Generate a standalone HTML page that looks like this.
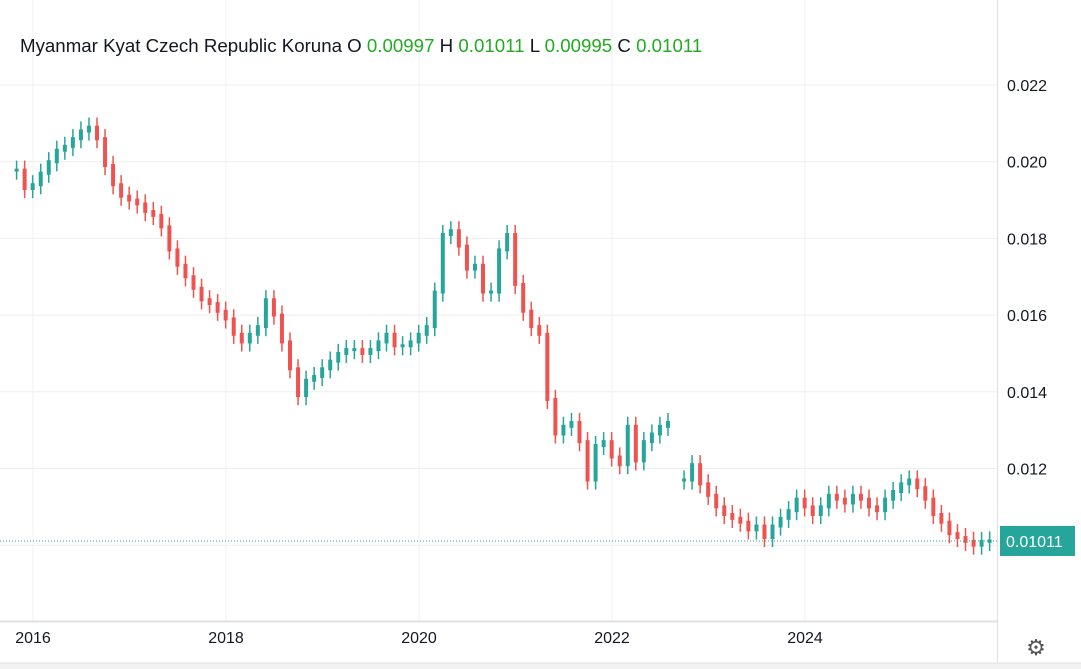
<!DOCTYPE html>
<html><head><meta charset="utf-8"><style>
body{margin:0;background:#fff;font-family:"Liberation Sans",sans-serif;}
#wrap{position:relative;width:1081px;height:669px;overflow:hidden;background:#fff}
</style></head><body>
<div id="wrap">
<svg id="svg" width="1081" height="669"></svg>
</div>
<script>
const startYear = 2015.83;
const closes = [0.01978,0.0193,0.0194,0.0197,0.0200,0.0203,0.0204,0.0206,0.0208,0.0209,0.0206,0.0199,0.0194,0.0191,
0.0190,0.0189,0.0187,0.0186,0.0183,0.0177,0.0173,0.0170,0.0167,0.0164,0.0163,0.0161,
0.0159,0.0155,0.0153,0.0155,0.0157,0.0164,0.0160,0.0153,0.0146,0.0139,0.0143,0.0144,
0.0146,0.0148,0.0150,0.0151,0.0151,0.0150,0.0151,0.0153,0.0155,0.0152,0.0152,0.0153,
0.0155,0.0157,0.0166,0.0181,0.0182,0.0178,0.0172,0.0173,0.0166,0.0166,0.0177,0.0181,
0.0168,0.0161,0.0157,0.0155,0.0138,0.0129,0.0131,0.0132,0.0127,0.0117,0.0126,0.0127,
0.0123,0.0121,0.0131,0.0122,0.0127,0.0129,0.0131,0.0132,null,
0.0117,0.0121,0.0116,0.0113,0.0110,0.0108,0.0107,0.0106,0.0104,0.0105,0.0102,0.0105,
0.0107,0.0109,0.0112,0.0110,0.0108,0.0110,0.0113,0.0112,0.0111,0.0113,0.0112,0.0110,
0.0109,0.0112,0.0114,0.0116,0.0117,0.0115,0.0112,0.0108,0.0106,0.0103,0.0102,0.0101,
0.0100,0.0101,0.01011];
const yTicks = [0.012,0.014,0.016,0.018,0.020,0.022];
const xTicks = [2016,2018,2020,2022,2024];
const lastPrice = 0.01011;

const svg = document.getElementById('svg');
const NS = 'http://www.w3.org/2000/svg';
function yS(v){return 85 + (0.022 - v)/0.002*76.7;}
function xS(t){return 33 + (t-2016)*96.5;}
function mk(tag, attrs, parent){const e=document.createElementNS(NS,tag);for(const k in attrs)e.setAttribute(k,attrs[k]);(parent||svg).appendChild(e);return e;}

yTicks.concat([0.010]).forEach(v=>{
  const g=mk('line',{x1:0,x2:997,y1:yS(v),y2:yS(v),stroke:'#eeeeee','stroke-width':1});
  
  
});
xTicks.forEach(t=>{
  const g=mk('line',{x1:xS(t),x2:xS(t),y1:0,y2:621,stroke:'#f0f0f0','stroke-width':1});
  
  
});
mk('line',{x1:997.5,x2:997.5,y1:0,y2:669,stroke:'#e0e0e0'});
mk('line',{x1:0,x2:997,y1:621.5,y2:621.5,stroke:'#e0e0e0','stroke-width':2});
mk('rect',{x:0,y:663,width:1081,height:6,fill:'#f2f2f2'});
mk('line',{x1:0,x2:1081,y1:663,y2:663,stroke:'#e0e0e0'});

yTicks.forEach(v=>{
  const t=mk('text',{x:1007,y:yS(v)+6,'font-size':16,fill:'#131722'});
  t.textContent=v.toFixed(3);
  
  
});
xTicks.forEach(y=>{
  const t=mk('text',{x:xS(y),y:643,'font-size':16,fill:'#131722','text-anchor':'middle'});
  t.textContent=String(y);
  
  
});

const step=1/12;
for(let i=0;i<closes.length;i++){
  const c=closes[i]; if(c===null) continue;
  const prev = (i>0 && closes[i-1]!==null)? closes[i-1] : c;
  const o=prev;
  const up=c>=o;
  const col=up?'#26a69a':'#ef5350';
  const x=xS(startYear+i*step);
  const hi=Math.max(o,c)+0.00025, lo=Math.min(o,c)-0.00025;
  const w=mk('line',{x1:x,x2:x,y1:yS(hi),y2:yS(lo),stroke:col,'stroke-width':1.5});
  
  
  const top=yS(Math.max(o,c)), bot=yS(Math.min(o,c));
  const b=mk('rect',{x:x-2,y:top-1.5,width:4,height:Math.max(3,bot-top+3),fill:col});
  
  
}

const ly=yS(lastPrice);
const pl=mk('line',{x1:0,x2:997,y1:ly,y2:ly,stroke:'#26a69a','stroke-dasharray':'1,2','stroke-width':1});


const pr=mk('rect',{x:1000,y:ly-15,width:75,height:30,fill:'#26a69a'});


const pt=mk('text',{x:1006,y:ly+6,'font-size':16,fill:'#fff'});
pt.textContent=lastPrice.toFixed(5);



const gear=mk('text',{x:1036,y:655,'font-size':22,fill:'#555','text-anchor':'middle'});
gear.textContent='⚙';



const lg=mk('text',{x:20,y:52,'font-size':18.7,fill:'#131722'});


lg.innerHTML='Myanmar Kyat Czech Republic Koruna O <tspan fill="#22ab22">0.00997</tspan> H <tspan fill="#22ab22">0.01011</tspan> L <tspan fill="#22ab22">0.00995</tspan> C <tspan fill="#22ab22">0.01011</tspan>';
</script>
</body></html>
